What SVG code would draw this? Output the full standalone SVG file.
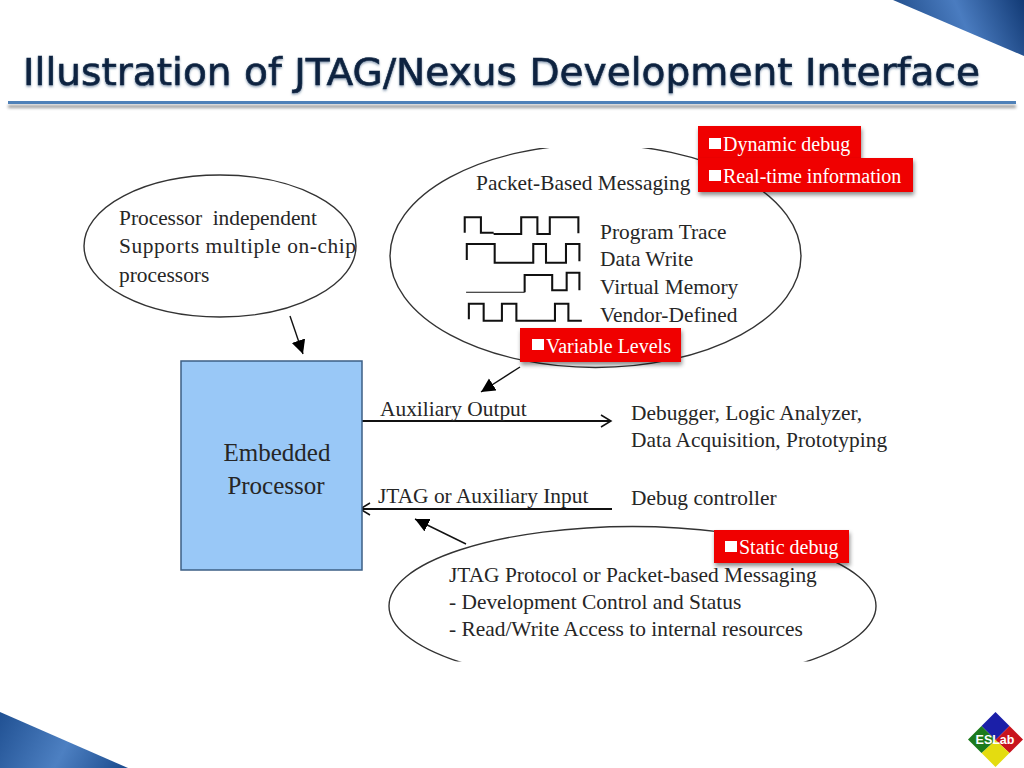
<svg xmlns="http://www.w3.org/2000/svg" width="1024" height="768" viewBox="0 0 1024 768">
<style>
.t{font-family:"Liberation Serif","Times New Roman",serif;font-size:21.400px;fill:#262626}
.r{font-family:"Liberation Serif","Times New Roman",serif;font-size:20px;fill:#fff}
.p{font-family:"Liberation Serif","Times New Roman",serif;font-size:25px;fill:#262626;text-anchor:middle}
.e{fill:none;stroke:#333;stroke-width:1.4}
.c{fill:none;stroke:#111;stroke-width:1.4}
.w{fill:none;stroke:#111;stroke-width:6}
.b{fill:#f00000;filter:url(#sh)}
.bu{fill:#fff}
</style>
<defs>
<linearGradient id="g1" gradientUnits="userSpaceOnUse" x1="893" y1="56" x2="1024" y2="0">
<stop offset="0" stop-color="#17427e"/><stop offset=".55" stop-color="#4a7cc0"/><stop offset="1" stop-color="#123a75"/>
</linearGradient>
<linearGradient id="g2" gradientUnits="userSpaceOnUse" x1="0" y1="700" x2="128" y2="768">
<stop offset="0" stop-color="#1d4d8f"/><stop offset=".55" stop-color="#4d80c2"/><stop offset="1" stop-color="#1a4a8c"/>
</linearGradient>
<filter id="sh" x="-10%" y="-20%" width="120%" height="150%"><feDropShadow dx="1" dy="3" stdDeviation="2" flood-color="#000" flood-opacity=".45"/></filter>
<filter id="ts" x="-2%" y="-20%" width="104%" height="150%"><feDropShadow dx="0" dy="1.500" stdDeviation="1.200" flood-color="#3a5a80" flood-opacity=".6"/></filter>
<filter id="ls" x="-2%" y="-300%" width="104%" height="800%"><feDropShadow dx="0" dy="4" stdDeviation="1.500" flood-color="#000" flood-opacity=".4"/></filter>
<clipPath id="c1"><rect x="380" y="148" width="430" height="230"/></clipPath>
<clipPath id="c2"><rect x="380" y="520" width="510" height="141.500"/></clipPath>
<marker id="tri" markerWidth="16" markerHeight="16" refX="14" refY="7" orient="auto" markerUnits="userSpaceOnUse"><path d="M0,0 L14,7 L0,14 Z" fill="#000"/></marker>
<marker id="open" markerWidth="16" markerHeight="16" refX="11" refY="8" orient="auto" markerUnits="userSpaceOnUse"><path d="M1,2 L11,8 L1,14" fill="none" stroke="#111" stroke-width="1.500"/></marker>
</defs>
<rect width="1024" height="768" fill="#fff"/>

<g id="corner-top"><polygon points="893,0 1024,0 1024,56" fill="url(#g1)"/></g>
<g id="corner-bottom"><polygon points="0,712 0,768 128,768" fill="url(#g2)"/></g>

<g id="title">
<text x="23" y="85" font-family="'DejaVu Sans',sans-serif" font-size="37" fill="#0f2440" stroke="#0f2440" stroke-width=".6" textLength="957" lengthAdjust="spacingAndGlyphs" filter="url(#ts)">Illustration of JTAG/Nexus Development Interface</text>
<rect x="8" y="101" width="1008" height="3" fill="#4f81b8" filter="url(#ls)"/>
</g>

<g id="connectors">
<line class="c" x1="290" y1="316" x2="303" y2="354" marker-end="url(#tri)"/>
<line class="c" x1="520" y1="367" x2="481" y2="392" marker-end="url(#tri)"/>
<line class="c" x1="466" y1="544" x2="415" y2="519" marker-end="url(#tri)"/>
<line class="c" x1="362" y1="421" x2="611" y2="421" style="stroke-width:2.200" marker-end="url(#open)"/>
<line class="c" x1="612" y1="509" x2="360" y2="509" style="stroke-width:2.200" marker-end="url(#open)"/>
</g>

<g id="processor-note">
<ellipse class="e" cx="220" cy="246" rx="136" ry="71"/>
<text class="t" x="119" y="225" xml:space="preserve" textLength="198">Processor  independent</text>
<text class="t" x="119" y="253" textLength="237">Supports multiple on-chip</text>
<text class="t" x="119" y="282">processors</text>
</g>

<g id="embedded-processor">
<rect x="181" y="361" width="181" height="209" fill="#99c8f7" stroke="#3d5f85" stroke-width="1.500"/>
<text class="p" x="277" y="461">Embedded</text>
<text class="p" x="276" y="494">Processor</text>
</g>

<g id="packet-messaging">
<ellipse class="e" cx="595.500" cy="256" rx="205.500" ry="111.500" clip-path="url(#c1)"/>
<text class="t" x="476" y="190">Packet-Based Messaging</text>
<g transform="translate(380 120) scale(.3444 .3333)">
<path class="w" d="M246,338V292H293V338H330M330,342H410V292H457V342H493V292H576V340"/>
<path class="w" d="M252,420V372H333V428H445V372H482V428H540V372H579V424"/>
<path class="w" style="stroke-width:3" d="M250,517H420"/>
<path class="w" d="M420,517V465H500V511H542V458H579V511"/>
<path class="w" d="M258,598V551H301V602H354V551H396V602H508V551H547V602H586"/>
</g>
<text class="t" x="600" y="239">Program Trace</text>
<text class="t" x="600" y="266">Data Write</text>
<text class="t" x="600" y="294">Virtual Memory</text>
<text class="t" x="600" y="321.500">Vendor-Defined</text>
</g>

<g id="aux-output">
<text class="t" x="380" y="416">Auxiliary Output</text>
<text class="t" x="631" y="420">Debugger, Logic Analyzer,</text>
<text class="t" x="631" y="447">Data Acquisition, Prototyping</text>
</g>

<g id="aux-input">
<text class="t" x="378" y="503">JTAG or Auxiliary Input</text>
<text class="t" x="631" y="504.500">Debug controller</text>
</g>

<g id="jtag-protocol">
<ellipse class="e" cx="632.500" cy="606" rx="243.500" ry="79.500" clip-path="url(#c2)"/>
<text class="t" x="449" y="582">JTAG Protocol or Packet-based Messaging</text>
<text class="t" x="449" y="609">- Development Control and Status</text>
<text class="t" x="449" y="636">- Read/Write Access to internal resources</text>
</g>

<g id="label-dynamic">
<rect class="b" x="698" y="126" width="163" height="34"/>
<rect class="bu" x="709" y="138" width="12" height="11"/>
<text class="r" x="723" y="151">Dynamic debug</text>
</g>
<g id="label-realtime">
<rect class="b" x="698" y="158" width="215" height="34"/>
<rect class="bu" x="709" y="170" width="12" height="11"/>
<text class="r" x="723" y="183">Real-time information</text>
</g>
<g id="label-variable">
<rect class="b" x="520" y="328" width="161" height="34"/>
<rect class="bu" x="532" y="339" width="12" height="11"/>
<text class="r" x="546" y="353">Variable Levels</text>
</g>
<g id="label-static">
<rect class="b" x="714" y="530" width="135" height="33"/>
<rect class="bu" x="725" y="541" width="12" height="11"/>
<text class="r" x="739" y="554">Static debug</text>
</g>

<g id="logo">
<polygon points="995.500,712 1009.500,726 995.500,740 981.500,726" fill="#1b1fa8"/>
<polygon points="1009.500,726 1023,739.500 1009.500,753 995.500,740" fill="#c8141e"/>
<polygon points="995.500,740 1009.500,753 995.500,767 981.500,753" fill="#e4dc10"/>
<polygon points="981.500,726 995.500,740 981.500,753 968,739.500" fill="#1c7a1c"/>
<text x="995" y="744" text-anchor="middle" font-family="'Liberation Sans',sans-serif" font-weight="bold" font-size="12.500" fill="#fff">ESLab</text>
</g>
</svg>
